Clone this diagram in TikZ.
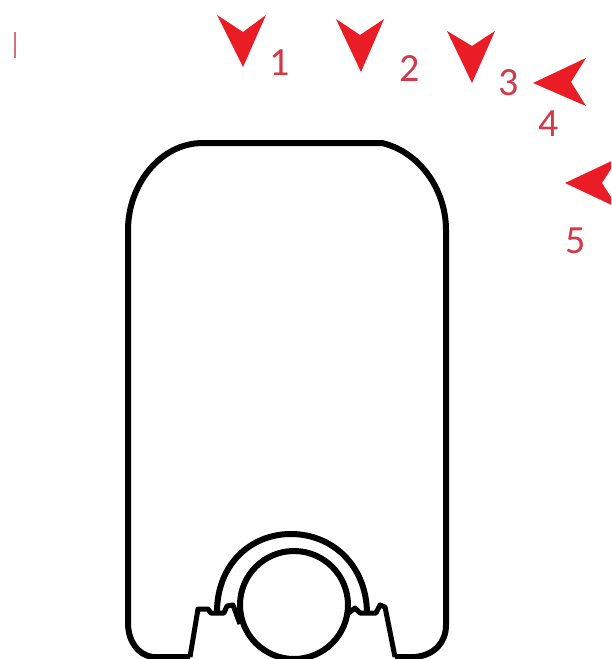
\documentclass[tikz,border=0pt]{standalone}
\usepackage{fontspec}
\usepackage{xcolor}
\setmainfont{Carlito}
\definecolor{headred}{HTML}{EA1C26}
\definecolor{numred}{HTML}{D23A48}
\definecolor{tickred}{HTML}{D9707E}
\begin{document}
\begin{tikzpicture}[
  x=1pt, y=-1pt,
  outline/.style={draw=black, line width=6pt, line join=round},
  head/.style={fill=headred},
  num/.style={text=numred, inner sep=0pt, font=\fontsize{40}{40}\selectfont}
]
\clip (0,0) rectangle (611,659);
\fill[white] (0,0) rectangle (611,659);

% outer body
\draw[outline] (190,657) -- (153,657)
  .. controls (137,655) and (128,640) .. (128,623)
  -- (128,230)
  .. controls (128,185) and (160,143) .. (203,143)
  -- (382,143)
  .. controls (420,152) and (446,190) .. (446,230)
  -- (446,625)
  .. controls (446,642) and (435,655) .. (415,657)
  -- (395,657);

% feet
\draw[outline, line width=5pt] (190,657) -- (198,609) -- (208,609) -- (211,613) -- (224,613)
  -- (227,606) -- (233,605) -- (240,624);
\draw[outline, line width=5pt] (395,657) -- (385,607) -- (380,605) -- (376,613) -- (360,613)
  -- (355,608) -- (346,615);

% pipe and cover
\draw[outline] (294,605) circle (54);
\draw[outline] (217,612) .. controls (217,565) and (250,534) .. (291,534)
  .. controls (332,534) and (366,565) .. (367,612);

% markers
\fill[head] (217,15) -- (243,32) -- (266,15) -- (243,67) -- cycle;
\fill[head] (336,19) -- (360,35) -- (384,19) -- (361,72) -- cycle;
\fill[head] (447,31) -- (472,46) -- (495,31) -- (472,83) -- cycle;
\fill[head] (533,83) -- (586,58) -- (571,82) -- (586,106) -- cycle;
\fill[head] (565,183) -- (618,158) -- (602,183) -- (618,208) -- cycle;

\node[num] (n1) at (280,63) {1};
\node[num] (n2) at (410,69) {2};
\node[num] (n3) at (509,83) {3};
\node[num] (n4) at (549,124) {4};
\node[num] (n5) at (576,241) {5};

\draw[tickred, line width=2pt] (15,32) -- (15,58);
\end{tikzpicture}
\end{document}
